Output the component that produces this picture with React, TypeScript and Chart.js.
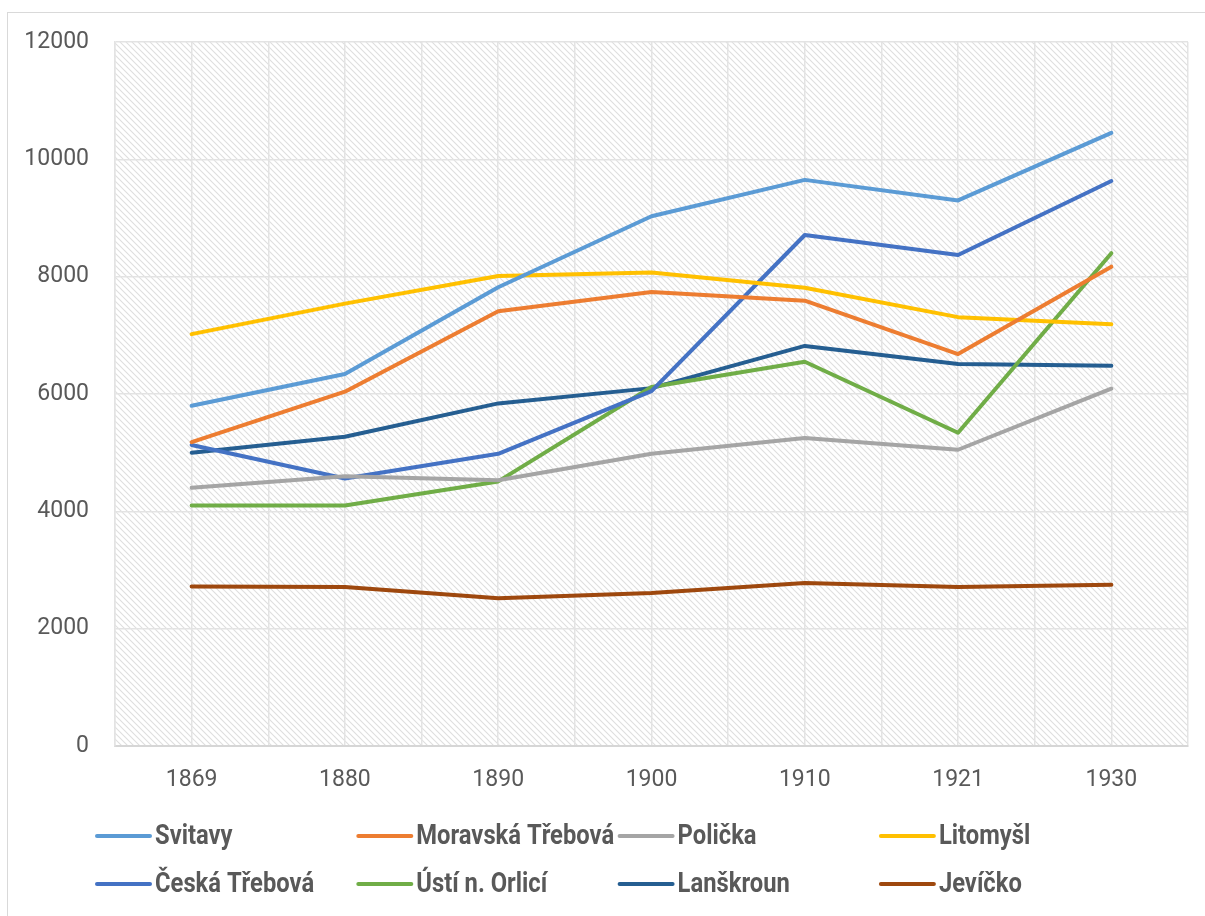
import React, { useEffect, useRef } from "react";
import { Chart, registerables } from "chart.js";

Chart.register(...registerables);

const years = ["1869", "1880", "1890", "1900", "1910", "1921", "1930"];

const svitavy = [5800, 6340, 7820, 9030, 9650, 9300, 10450];
const moravskaTrebova = [5180, 6040, 7410, 7740, 7590, 6680, 8170];
const policka = [4400, 4600, 4530, 4980, 5250, 5050, 6090];
const litomysl = [7020, 7540, 8010, 8070, 7810, 7310, 7190];
const ceskaTrebova = [5130, 4560, 4980, 6050, 8710, 8370, 9630];
const ustiOrlici = [4100, 4100, 4510, 6120, 6550, 5340, 8400];
const lanskroun = [5000, 5270, 5840, 6100, 6820, 6510, 6480];
const jevicko = [2720, 2710, 2520, 2610, 2780, 2710, 2750];

const seriesNames = [
  "Svitavy",
  "Moravská Třebová",
  "Polička",
  "Litomyšl",
  "Česká Třebová",
  "Ústí n. Orlicí",
  "Lanškroun",
  "Jevíčko",
];
const seriesValues = [svitavy, moravskaTrebova, policka, litomysl, ceskaTrebova, ustiOrlici, lanskroun, jevicko];
const seriesColors = ["#5B9BD5", "#ED7D31", "#A5A5A5", "#FFC000", "#4472C4", "#70AD47", "#255E91", "#9E480E"];

const yTicks = [0, 2000, 4000, 6000, 8000, 10000, 12000];

const TEXT = "#595959";
const GRID = "#e3e3e3";

function makePattern(ctx: CanvasRenderingContext2D) {
  const c = document.createElement("canvas");
  const s = 6;
  c.width = s;
  c.height = s;
  const p = c.getContext("2d")!;
  p.fillStyle = "#ffffff";
  p.fillRect(0, 0, s, s);
  p.strokeStyle = "rgba(200,200,200,0.6)";
  p.lineWidth = 1.1;
  p.beginPath();
  p.moveTo(-1, -1);
  p.lineTo(s + 1, s + 1);
  p.moveTo(-1, s - 1);
  p.lineTo(1, s + 1);
  p.moveTo(s - 1, -1);
  p.lineTo(s + 1, 1);
  p.stroke();
  return ctx.createPattern(c, "repeat");
}

const hatchPlugin = {
  id: "hatch",
  beforeDraw(chart: any) {
    const { ctx, chartArea } = chart;
    const pat = makePattern(ctx);
    ctx.save();
    if (pat) ctx.fillStyle = pat;
    ctx.fillRect(chartArea.left, chartArea.top, chartArea.right - chartArea.left, chartArea.bottom - chartArea.top);
    ctx.restore();
  },
};

const legendPlugin = {
  id: "colLegend",
  afterDraw(chart: any) {
    const { ctx } = chart;
    const ds = chart.data.datasets;
    const colStart = 97;
    const colW = 261.3;
    const rows = [836, 884];
    ctx.save();
    ds.forEach((d: any, i: number) => {
      const col = i % 4;
      const row = Math.floor(i / 4);
      const x = colStart + col * colW;
      const y = rows[row];
      ctx.strokeStyle = d.borderColor;
      ctx.lineWidth = 4;
      ctx.lineCap = "round";
      ctx.beginPath();
      ctx.moveTo(x, y);
      ctx.lineTo(x + 53, y);
      ctx.stroke();
      ctx.save();
      ctx.translate(x + 58, y);
      ctx.scale(0.88, 1);
      ctx.fillStyle = TEXT;
      ctx.font = "bold 27px Roboto";
      ctx.textBaseline = "middle";
      ctx.textAlign = "left";
      ctx.fillText(d.label, 0, 1);
      ctx.restore();
    });
    ctx.restore();
  },
};

export default function App() {
  const ref = useRef<HTMLCanvasElement | null>(null);

  useEffect(() => {
    document.body.style.margin = "0";
    const canvas = ref.current!;
    const chart = new Chart(canvas, {
      type: "line",
      data: {
        labels: years,
        datasets: seriesNames.map((name, i) => ({
          label: name,
          data: seriesValues[i],
          borderColor: seriesColors[i],
          backgroundColor: seriesColors[i],
          borderWidth: 4,
          pointRadius: 0,
          pointHoverRadius: 0,
          tension: 0,
          borderCapStyle: "round" as const,
          borderJoinStyle: "round" as const,
          fill: false,
        })),
      },
      options: {
        animation: false,
        responsive: true,
        maintainAspectRatio: false,
        layout: { padding: { left: 0, top: 42, right: 17, bottom: 0 } },
        plugins: {
          legend: { display: false },
          tooltip: { enabled: false },
        },
        scales: {
          x: {
            type: "category",
            offset: true,
            position: "bottom",
            grid: { offset: true, color: GRID, lineWidth: 1.5, drawTicks: false },
            border: { color: "#d6d6d6", width: 2 },
            ticks: { color: TEXT, font: { family: "Roboto", size: 23 }, padding: 20, maxRotation: 0 },
            afterFit: (axis: any) => {
              axis.height = 170;
            },
          },
          xc: {
            type: "category",
            offset: true,
            position: "bottom",
            labels: years,
            grid: { offset: false, color: GRID, lineWidth: 1.5, drawTicks: false },
            border: { display: false },
            ticks: { display: false },
            afterFit: (axis: any) => {
              axis.height = 0;
            },
          },
          y: {
            min: 0,
            max: 12000,
            afterBuildTicks: (axis: any) => {
              axis.ticks = yTicks.map((v) => ({ value: v }));
            },
            grid: { color: GRID, lineWidth: 1.5, drawTicks: false },
            border: { color: GRID, width: 1.5 },
            ticks: {
              color: TEXT,
              font: { family: "Roboto", size: 23 },
              padding: 26,
              callback: (v: any) => String(v),
            },
            afterFit: (axis: any) => {
              axis.width = 115;
            },
          },
        },
      },
      plugins: [hatchPlugin, legendPlugin],
    });
    return () => chart.destroy();
  }, []);

  return (
    <div style={{ position: "fixed", left: 0, top: 0, width: 1205, height: 916, background: "#fff" }}>
      <div
        style={{
          position: "absolute",
          left: 7,
          top: 12,
          width: 1300,
          height: 1000,
          borderLeft: "1.5px solid #d9d9d9",
          borderTop: "1.5px solid #d9d9d9",
          boxSizing: "border-box",
        }}
      />
      <canvas ref={ref} style={{ position: "absolute", left: 0, top: 0, width: 1205, height: 916 }} />
    </div>
  );
}
